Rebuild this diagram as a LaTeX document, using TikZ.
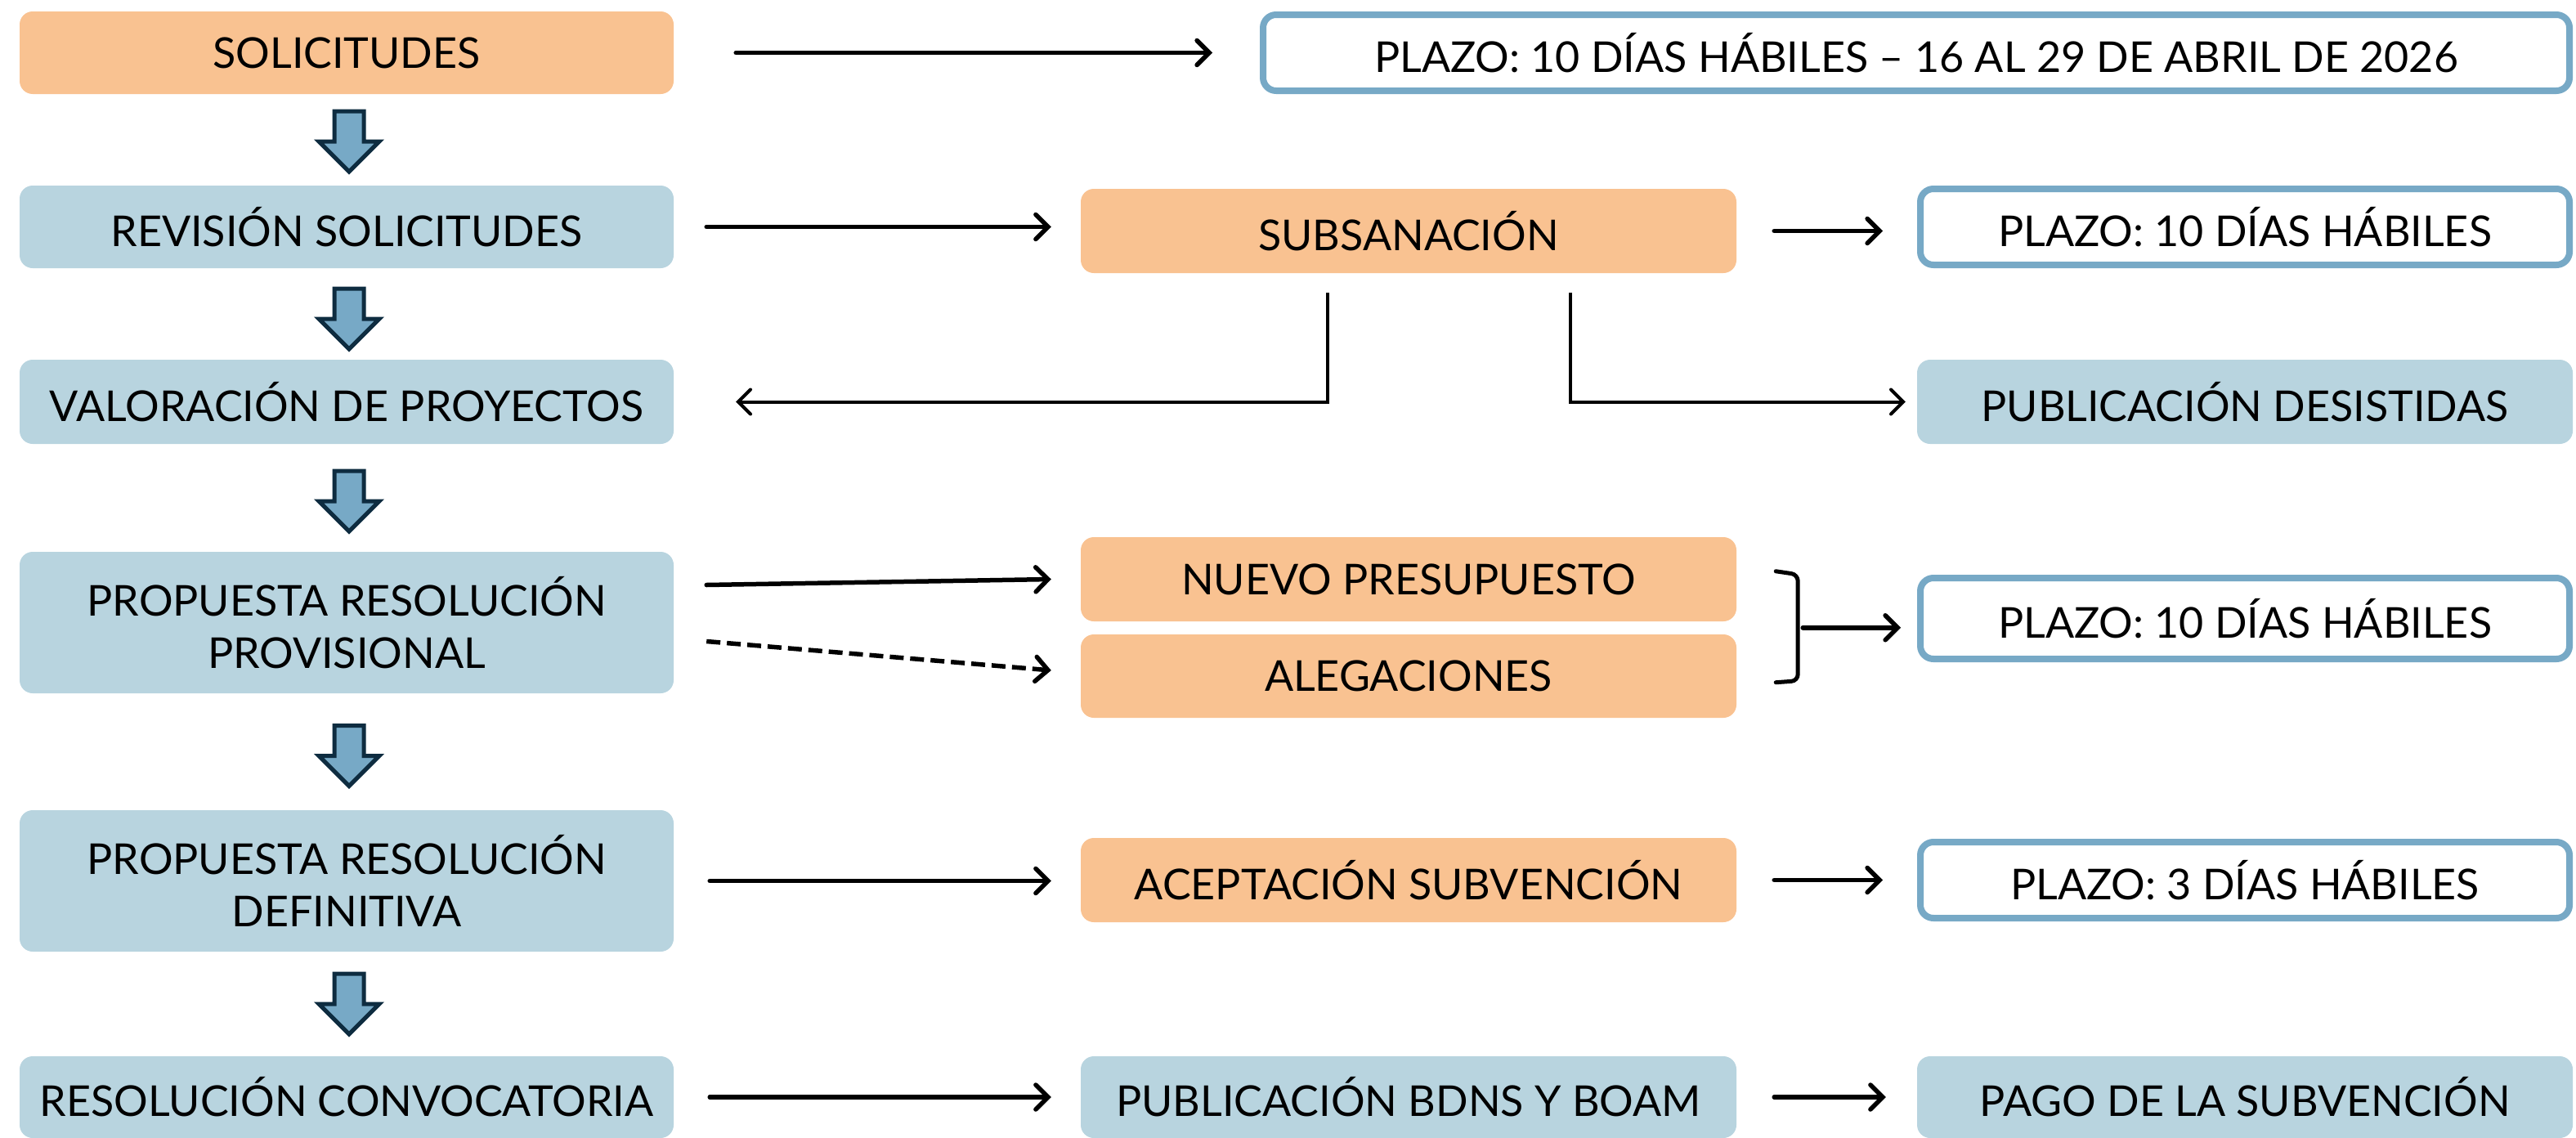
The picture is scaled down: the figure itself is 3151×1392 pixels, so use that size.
\documentclass[tikz,border=0pt]{standalone}
\usepackage{fontspec}
\setmainfont{Lato}
\usetikzlibrary{arrows.meta,calc}
\definecolor{peach}{HTML}{F9C291}
\definecolor{lblue}{HTML}{B8D4DF}
\definecolor{mblue}{HTML}{77A9C6}
\definecolor{navy}{HTML}{0E2C40}
\newcommand\blockarrow[1]{\draw[downarr] ($(#1)+(-18,-37)$) -- ++(36,0) -- ++(0,37) -- ++(19,0) -- ++(-37,37) -- ++(-37,-37) -- ++(19,0) -- cycle;}
\begin{document}
\begin{tikzpicture}[x=1pt,y=-1pt,
 box/.style={rounded corners=16pt, minimum width=800pt, minimum height=101pt, align=center, inner sep=0pt, font=\fontsize{52}{64}\selectfont, text=black},
 obox/.style={box, fill=peach},
 bbox/.style={box, fill=lblue},
 wbox/.style={box, draw=mblue, line width=8pt, fill=white, minimum width=794pt, minimum height=93pt},
 conn/.style={line width=5.5pt, line cap=round, -{Straight Barb[length=15pt,width=30pt,line cap=round]}},
 thin conn/.style={line width=4pt, -{Straight Barb[length=15pt,width=30pt,line cap=round]}},
 downarr/.style={fill=mblue, draw=navy, line width=5pt, line join=miter},
 bracket/.style={line width=5pt, line cap=round, rounded corners=8pt},
]
\useasboundingbox (0,0) rectangle (3151,1392);
% column 1
\node[obox] (n1) at (424,64.5) {SOLICITUDES};
\node[bbox] (n2) at (424,277.5) {REVISIÓN SOLICITUDES};
\node[bbox, minimum height=103pt] (n3) at (424,491.5) {VALORACIÓN DE PROYECTOS};
\node[bbox, minimum height=173pt] (n4) at (424,761.5) {PROPUESTA RESOLUCIÓN\\PROVISIONAL};
\node[bbox, minimum height=173pt] (n5) at (424,1077.5) {PROPUESTA RESOLUCIÓN\\DEFINITIVA};
\node[bbox, minimum height=100pt] (n6) at (424,1342) {RESOLUCIÓN CONVOCATORIA};
% column 2
\node[obox, minimum width=802pt, minimum height=103pt] (m2) at (1723,282.5) {SUBSANACIÓN};
\node[obox, minimum width=802pt, minimum height=103pt] (m4a) at (1723,708.5) {NUEVO PRESUPUESTO};
\node[obox, minimum width=802pt, minimum height=102pt] (m4b) at (1723,827) {ALEGACIONES};
\node[obox, minimum width=802pt, minimum height=103pt] (m5) at (1723,1076.5) {ACEPTACIÓN SUBVENCIÓN};
\node[bbox, minimum width=802pt, minimum height=100pt] (m6) at (1723,1342) {PUBLICACIÓN BDNS Y BOAM};
% column 3
\node[wbox, minimum width=1598pt] (r1) at (2344,64.5) {PLAZO: 10 DÍAS HÁBILES – 16 AL 29 DE ABRIL DE 2026};
\node[wbox] (r2) at (2746,277.5) {PLAZO: 10 DÍAS HÁBILES};
\node[bbox, minimum width=802pt, minimum height=103pt] (r3) at (2746,491.5) {PUBLICACIÓN DESISTIDAS};
\node[wbox, minimum height=99pt] (r4) at (2746,756.5) {PLAZO: 10 DÍAS HÁBILES};
\node[wbox] (r5) at (2746,1076.5) {PLAZO: 3 DÍAS HÁBILES};
\node[bbox, minimum width=802pt, minimum height=100pt] (r6) at (2746,1342) {PAGO DE LA SUBVENCIÓN};
% block arrows
\coordinate (d1) at ($(n1.south)!0.5!(n2.north)+(3,2)$);
\coordinate (d2) at ($(n2.south)!0.5!(n3.north)+(3,6)$);
\coordinate (d3) at ($(n3.south)!0.5!(n4.north)+(3,4)$);
\coordinate (d4) at ($(n4.south)!0.5!(n5.north)+(3,5)$);
\coordinate (d5) at ($(n5.south)!0.5!(n6.north)+(3,0)$);
\blockarrow{d1}
\blockarrow{d2}
\blockarrow{d3}
\blockarrow{d4}
\blockarrow{d5}
% connectors
\draw[conn, shorten <=76pt, shorten >=58pt] (n1.east) -- (n1.east -| r1.west);
\draw[conn, shorten <=40pt, shorten >=36pt] (n2.east) -- (n2.east -| m2.west);
\draw[conn, shorten <=46pt, shorten >=42pt] (m2.east) -- (m2.east -| r2.west);
\draw[thin conn] ($(m2.south)+(-99,24)$) |- ($(n3.east)+(76,0)$);
\draw[thin conn] ($(m2.south)+(198,24)$) |- ($(r3.west)+(-14,0)$);
\draw[conn] ($(n4.east)+(40,-46)$) -- ($(m4a.west)+(-36,0)$);
\draw[conn, dash pattern=on 17pt off 8pt, line cap=butt] ($(n4.east)+(40,23)$) -- ($(m4b.west)+(-36,-7)$);
\coordinate (br) at ($(m4a.east)!0.5!(m4b.east)+(75,0)$);
\draw[bracket] ($(br)+(-27,-69)$) -- ($(br)+(0,-65)$) -- ($(br)+(0,65)$) -- ($(br)+(-27,67)$);
\draw[conn, shorten <=6pt, shorten >=20pt] (br) -- (br -| r4.west);
\draw[conn, shorten <=44pt, shorten >=36pt] (n5.east) -- (n5.east -| m5.west);
\draw[conn, shorten <=46pt, shorten >=42pt] (m5.east) -- (m5.east -| r5.west);
\draw[conn, shorten <=44pt, shorten >=36pt] (n6.east) -- (n6.east -| m6.west);
\draw[conn, shorten <=46pt, shorten >=38pt] (m6.east) -- (m6.east -| r6.west);
\end{tikzpicture}
\end{document}
